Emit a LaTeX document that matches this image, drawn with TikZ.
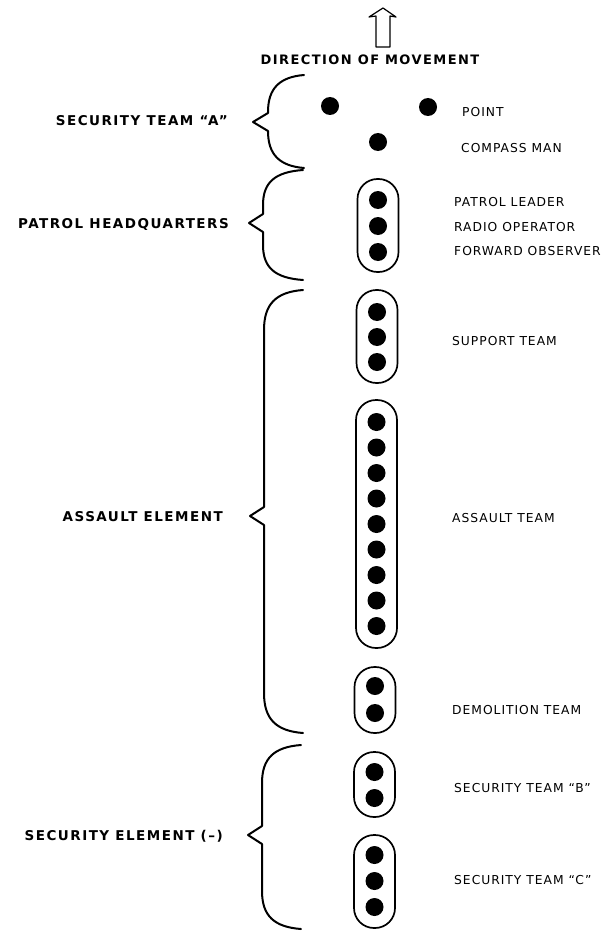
\documentclass[tikz,border=0pt]{standalone}
\usepackage{fontspec}
\setmainfont{DejaVu Sans}
\newfontfamily\rlabfont[LetterSpace=8]{DejaVu Sans}
\newfontfamily\blabfont[LetterSpace=11]{DejaVu Sans}
\newcommand\mybrace[7]{%
  \draw[bracestyle] (#1,#4) .. controls ({#2+12},{#4+2}) and (#2,{#4+0.35*#7}) .. (#2,{#4+#7})
    -- (#2,{#5-9}) -- (#3,#5) -- (#2,{#5+9}) -- (#2,{#6-#7})
    .. controls (#2,{#6-0.35*#7}) and ({#2+12},{#6-2}) .. (#1,#6);}
\begin{document}
\begin{tikzpicture}[x=1pt,y=-1pt,
  dotnode/.style={circle, fill=black, inner sep=0pt, minimum size=18pt},
  capsule/.style={draw, line width=1.7pt, rounded corners=20pt, minimum width=41pt, inner sep=0pt},
  rlab/.style={anchor=base west, inner sep=0pt, font={\rlabfont\fontsize{12.3}{12}\selectfont}},
  blab/.style={anchor=base east, inner sep=0pt, font={\blabfont\bfseries\fontsize{13.5}{13}\selectfont}},
  bracestyle/.style={line width=2pt, line join=round, line cap=round},
  arrowshape/.style={line width=1.2pt, line join=round}]
\useasboundingbox (0,0) rectangle (610,931);
% direction arrow
\draw[arrowshape] (376,47) -- (376,16) -- (369,17) -- (383,8) -- (396,17) -- (390,16) -- (390,47) -- cycle;
\node[anchor=base, inner sep=0pt, font={\blabfont\bfseries\fontsize{13}{13}\selectfont}] (dir) at (370,65) {DIRECTION OF MOVEMENT};
% security team A
\node[dotnode] (pt1) at (330,106) {};
\node[dotnode] (pt2) at (428,107) {};
\node[dotnode] (cm) at (378,142) {};
\node[rlab] (lpoint) at (462,116.5) {POINT};
\node[rlab] (lcomp) at (461,152.5) {COMPASS MAN};
% patrol HQ
\node[capsule, minimum height=93pt] (hq) at (378,225.5) {};
\node[dotnode] (hq1) at (378,200) {};
\node[dotnode] (hq2) at (378,226) {};
\node[dotnode] (hq3) at (378,252) {};
\node[rlab] (lpl) at (454,206.5) {PATROL LEADER};
\node[rlab] (lro) at (454,231) {RADIO OPERATOR};
\node[rlab] (lfo) at (454,255) {FORWARD OBSERVER};
% support
\node[capsule, minimum height=93pt] (sup) at (377,336.5) {};
\foreach \y [count=\i] in {312,337,362} \node[dotnode] (sup\i) at (377,\y) {};
\node[rlab] (lsup) at (452,345) {SUPPORT TEAM};
% assault
\node[capsule, minimum height=248pt] (asl) at (376.5,524) {};
\foreach \y [count=\i] in {422,447.5,473,498.5,524,549.5,575,600.5,626} \node[dotnode] (asl\i) at (376.5,\y) {};
\node[rlab] (lasl) at (452,522) {ASSAULT TEAM};
% demolition
\node[capsule, minimum height=66pt] (dem) at (375,700) {};
\node[dotnode] (dem1) at (375,686) {};
\node[dotnode] (dem2) at (375,713) {};
\node[rlab] (ldem) at (452,714) {DEMOLITION TEAM};
% security B
\node[capsule, minimum height=65pt] (secb) at (374.5,784.5) {};
\node[dotnode] (secb1) at (374.5,772) {};
\node[dotnode] (secb2) at (374.5,798) {};
\node[rlab] (lsecb) at (454,792) {SECURITY TEAM “B”};
% security C
\node[capsule, minimum height=93pt] (secc) at (374.5,881.5) {};
\foreach \y [count=\i] in {855,881,907} \node[dotnode] (secc\i) at (374.5,\y) {};
\node[rlab] (lsecc) at (454,884) {SECURITY TEAM “C”};
% braces
\mybrace{304}{268}{253}{75}{122}{168}{37}
\mybrace{303}{263}{249}{170}{223}{280}{35}
\mybrace{303}{264}{250}{290}{516}{733}{40}
\mybrace{301}{262}{248}{745}{835}{929}{38}
% left labels
\node[blab] (gA) at (228,125) {SECURITY TEAM “A”};
\node[blab] (gHQ) at (229,228) {PATROL HEADQUARTERS};
\node[blab] (gAE) at (223,521) {ASSAULT ELEMENT};
\node[blab] (gSE) at (223,840) {SECURITY ELEMENT (–)};
\end{tikzpicture}
\end{document}
